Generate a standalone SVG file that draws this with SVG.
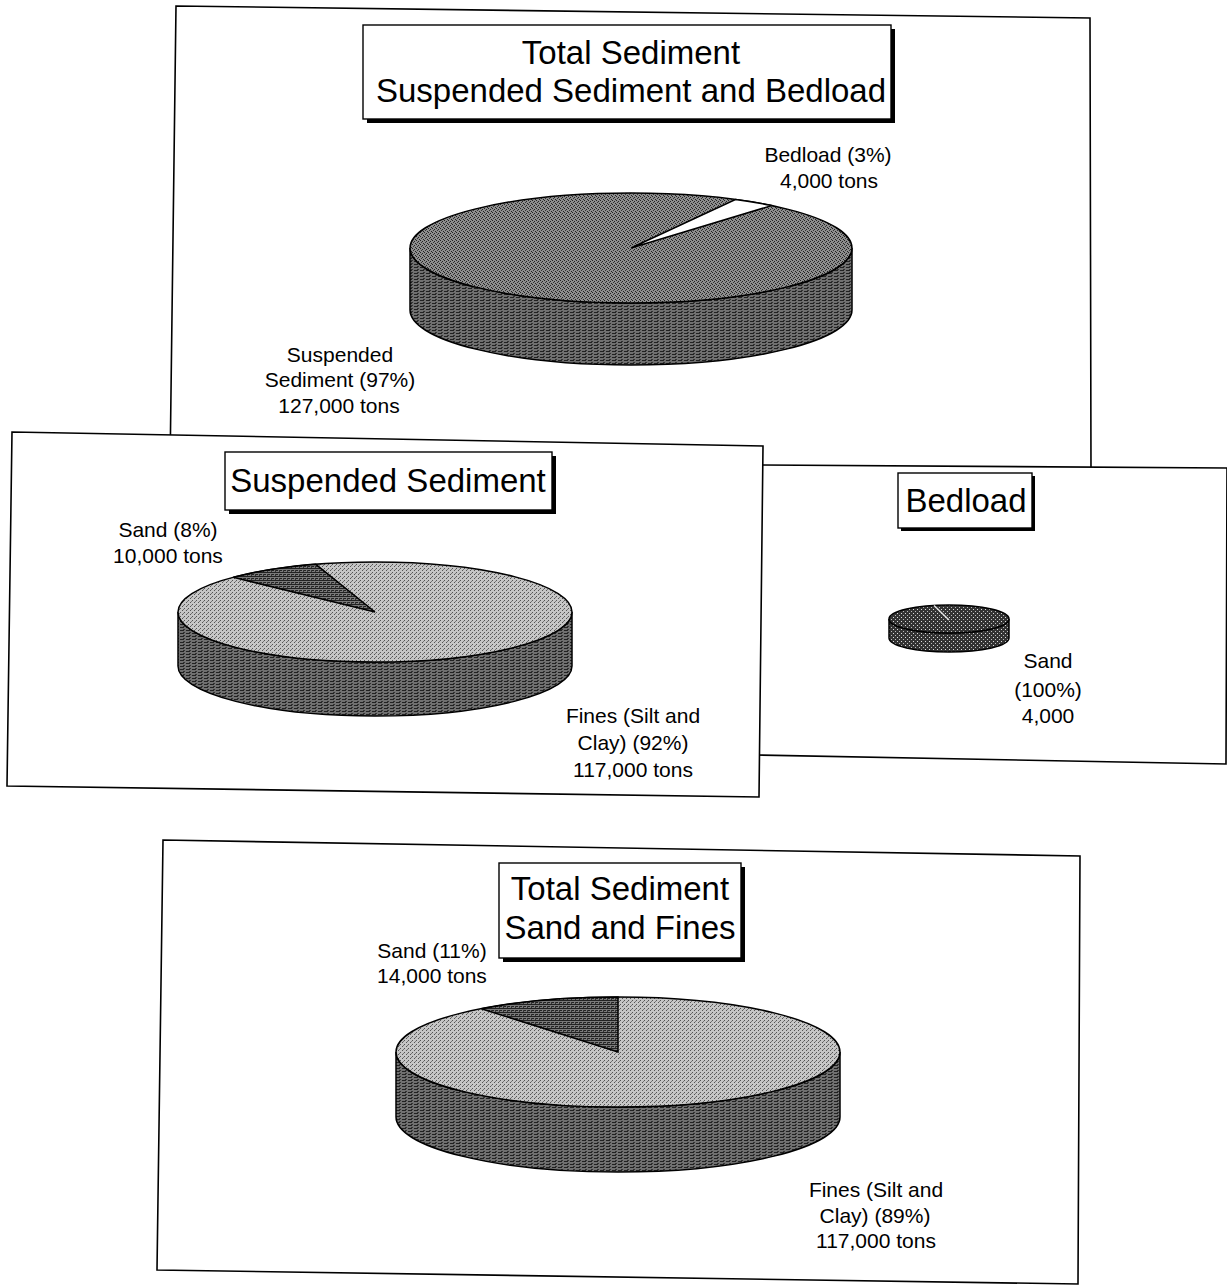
<svg xmlns="http://www.w3.org/2000/svg" width="1227" height="1285" viewBox="0 0 1227 1285">
<defs>
<style>
.panel{fill:#fff;stroke:#000;stroke-width:1.6}
.tbox{fill:#fff;stroke:#000;stroke-width:1.4}
.shadow{fill:#000}
.title{font-family:"Liberation Sans",Arial,sans-serif;font-size:33px;fill:#000;text-anchor:middle}
.lbl{font-family:"Liberation Sans",Arial,sans-serif;font-size:21px;fill:#000;text-anchor:middle}
.edge{stroke:#000;stroke-width:1.5}
</style>
<pattern id="pDarkTop" width="4" height="4" patternUnits="userSpaceOnUse">
<rect width="4" height="4" fill="#8e8e8e"/>
<rect x="0" y="0" width="1" height="1" fill="#222"/>
<rect x="2" y="1" width="1" height="1" fill="#222"/>
<rect x="1" y="2" width="1" height="1" fill="#333"/>
<rect x="3" y="3" width="1" height="1" fill="#222"/>
</pattern>
<pattern id="pDarkSide" width="6" height="3" patternUnits="userSpaceOnUse">
<rect width="6" height="3" fill="#707070"/>
<rect x="0" y="0" width="4" height="1" fill="#222"/>
<rect x="3" y="2" width="2" height="1" fill="#333"/>
</pattern>
<pattern id="pLightTop" width="4" height="4" patternUnits="userSpaceOnUse">
<rect width="4" height="4" fill="#c6c6c6"/>
<rect x="0" y="0" width="1" height="1" fill="#555"/>
<rect x="2" y="2" width="1" height="1" fill="#555"/>
<rect x="3" y="1" width="1" height="1" fill="#777"/>
</pattern>
<pattern id="pHatch" width="4" height="4" patternUnits="userSpaceOnUse">
<rect width="4" height="4" fill="#7a7a7a"/>
<rect x="0" y="0" width="4" height="1" fill="#222"/>
<rect x="0" y="2" width="2" height="1" fill="#222"/>
<rect x="3" y="2" width="1" height="2" fill="#333"/>
</pattern>
<pattern id="pCross" width="4" height="4" patternUnits="userSpaceOnUse">
<rect width="4" height="4" fill="#333"/>
<rect x="1" y="1" width="1" height="1" fill="#ddd"/>
<rect x="3" y="3" width="1" height="1" fill="#bbb"/>
</pattern>
</defs>

<g id="panel-total">
<path class="panel" d="M176,6 L1090,18 L1091,470 L170,470 Z"/>
<g id="title-total">
<rect class="shadow" x="367" y="29" width="528" height="94"/>
<rect class="tbox" x="363" y="25" width="528" height="94"/>
<text class="title" x="631" y="64">Total Sediment</text>
<text class="title" x="631" y="102">Suspended Sediment and Bedload</text>
</g>
<g id="pie-total">
<path d="M410,248 A221 55 0 0 0 852,248 L852,310 A221 55 0 0 1 410,310 Z" fill="url(#pDarkSide)" class="edge"/>
<ellipse cx="631" cy="248" rx="221" ry="55" fill="url(#pDarkTop)" class="edge"/>
<path d="M631,248 L735.4,199.5 A221 55 0 0 1 771.6,205.6 Z" fill="#fff" class="edge"/>
</g>
<g id="label-bedload">
<text class="lbl" x="828" y="162">Bedload (3%)</text>
<text class="lbl" x="829" y="188">4,000 tons</text>
</g>
<g id="label-suspended">
<text class="lbl" x="340" y="362">Suspended</text>
<text class="lbl" x="340" y="387">Sediment (97%)</text>
<text class="lbl" x="339" y="413">127,000 tons</text>
</g>
</g>

<g id="panel-bedload">
<path class="panel" d="M755,465 L1227,468 L1226,764 L755,755 Z"/>
<g id="title-bedload">
<rect class="shadow" x="901" y="476" width="134" height="55"/>
<rect class="tbox" x="898" y="473" width="134" height="55"/>
<text class="title" x="966" y="512">Bedload</text>
</g>
<g id="pie-bedload">
<path d="M889,619 A60 14 0 0 0 1009,619 L1009,638 A60 14 0 0 1 889,638 Z" fill="url(#pCross)" class="edge"/>
<ellipse cx="949" cy="619" rx="60" ry="14" fill="url(#pCross)" class="edge"/>
<line x1="949" y1="620" x2="934" y2="605.5" stroke="#ddd" stroke-width="1.5"/>
</g>
<g id="label-bedload-sand">
<text class="lbl" x="1048" y="668">Sand</text>
<text class="lbl" x="1048" y="697">(100%)</text>
<text class="lbl" x="1048" y="723">4,000</text>
</g>
</g>

<g id="panel-suspended">
<path class="panel" d="M12,432 L763,446 L759,797 L7,786 Z"/>
<g id="title-suspended">
<rect class="shadow" x="229" y="456" width="327" height="58"/>
<rect class="tbox" x="225" y="452" width="327" height="58"/>
<text class="title" x="388" y="492">Suspended Sediment</text>
</g>
<g id="pie-suspended">
<path d="M178,612 A197 50 0 0 0 572,612 L572,666 A197 50 0 0 1 178,666 Z" fill="url(#pDarkSide)" class="edge"/>
<ellipse cx="375" cy="612" rx="197" ry="50" fill="url(#pLightTop)" class="edge"/>
<path d="M375,612 L233.3,577.3 A197 50 0 0 1 315.8,564.3 Z" fill="url(#pHatch)" class="edge"/>
</g>
<g id="label-susp-sand">
<text class="lbl" x="168" y="537">Sand (8%)</text>
<text class="lbl" x="168" y="563">10,000 tons</text>
</g>
<g id="label-susp-fines">
<text class="lbl" x="633" y="723">Fines (Silt and</text>
<text class="lbl" x="633" y="750">Clay) (92%)</text>
<text class="lbl" x="633" y="777">117,000 tons</text>
</g>
</g>

<g id="panel-sandfines">
<path class="panel" d="M163,840 L1080,856 L1078,1284 L157,1270 Z"/>
<g id="title-sandfines">
<rect class="shadow" x="503" y="867" width="242" height="95"/>
<rect class="tbox" x="499" y="863" width="242" height="95"/>
<text class="title" x="620" y="900">Total Sediment</text>
<text class="title" x="620" y="939">Sand and Fines</text>
</g>
<g id="pie-sandfines">
<path d="M396,1052 A222 55 0 0 0 840,1052 L840,1117 A222 55 0 0 1 396,1117 Z" fill="url(#pDarkSide)" class="edge"/>
<ellipse cx="618" cy="1052" rx="222" ry="55" fill="url(#pLightTop)" class="edge"/>
<path d="M618,1052 L481.3,1008.7 A222 55 0 0 1 618,997 Z" fill="url(#pHatch)" class="edge"/>
</g>
<g id="label-total-sand">
<text class="lbl" x="432" y="958">Sand (11%)</text>
<text class="lbl" x="432" y="983">14,000 tons</text>
</g>
<g id="label-total-fines">
<text class="lbl" x="876" y="1197">Fines (Silt and</text>
<text class="lbl" x="875" y="1223">Clay) (89%)</text>
<text class="lbl" x="876" y="1248">117,000 tons</text>
</g>
</g>
</svg>
